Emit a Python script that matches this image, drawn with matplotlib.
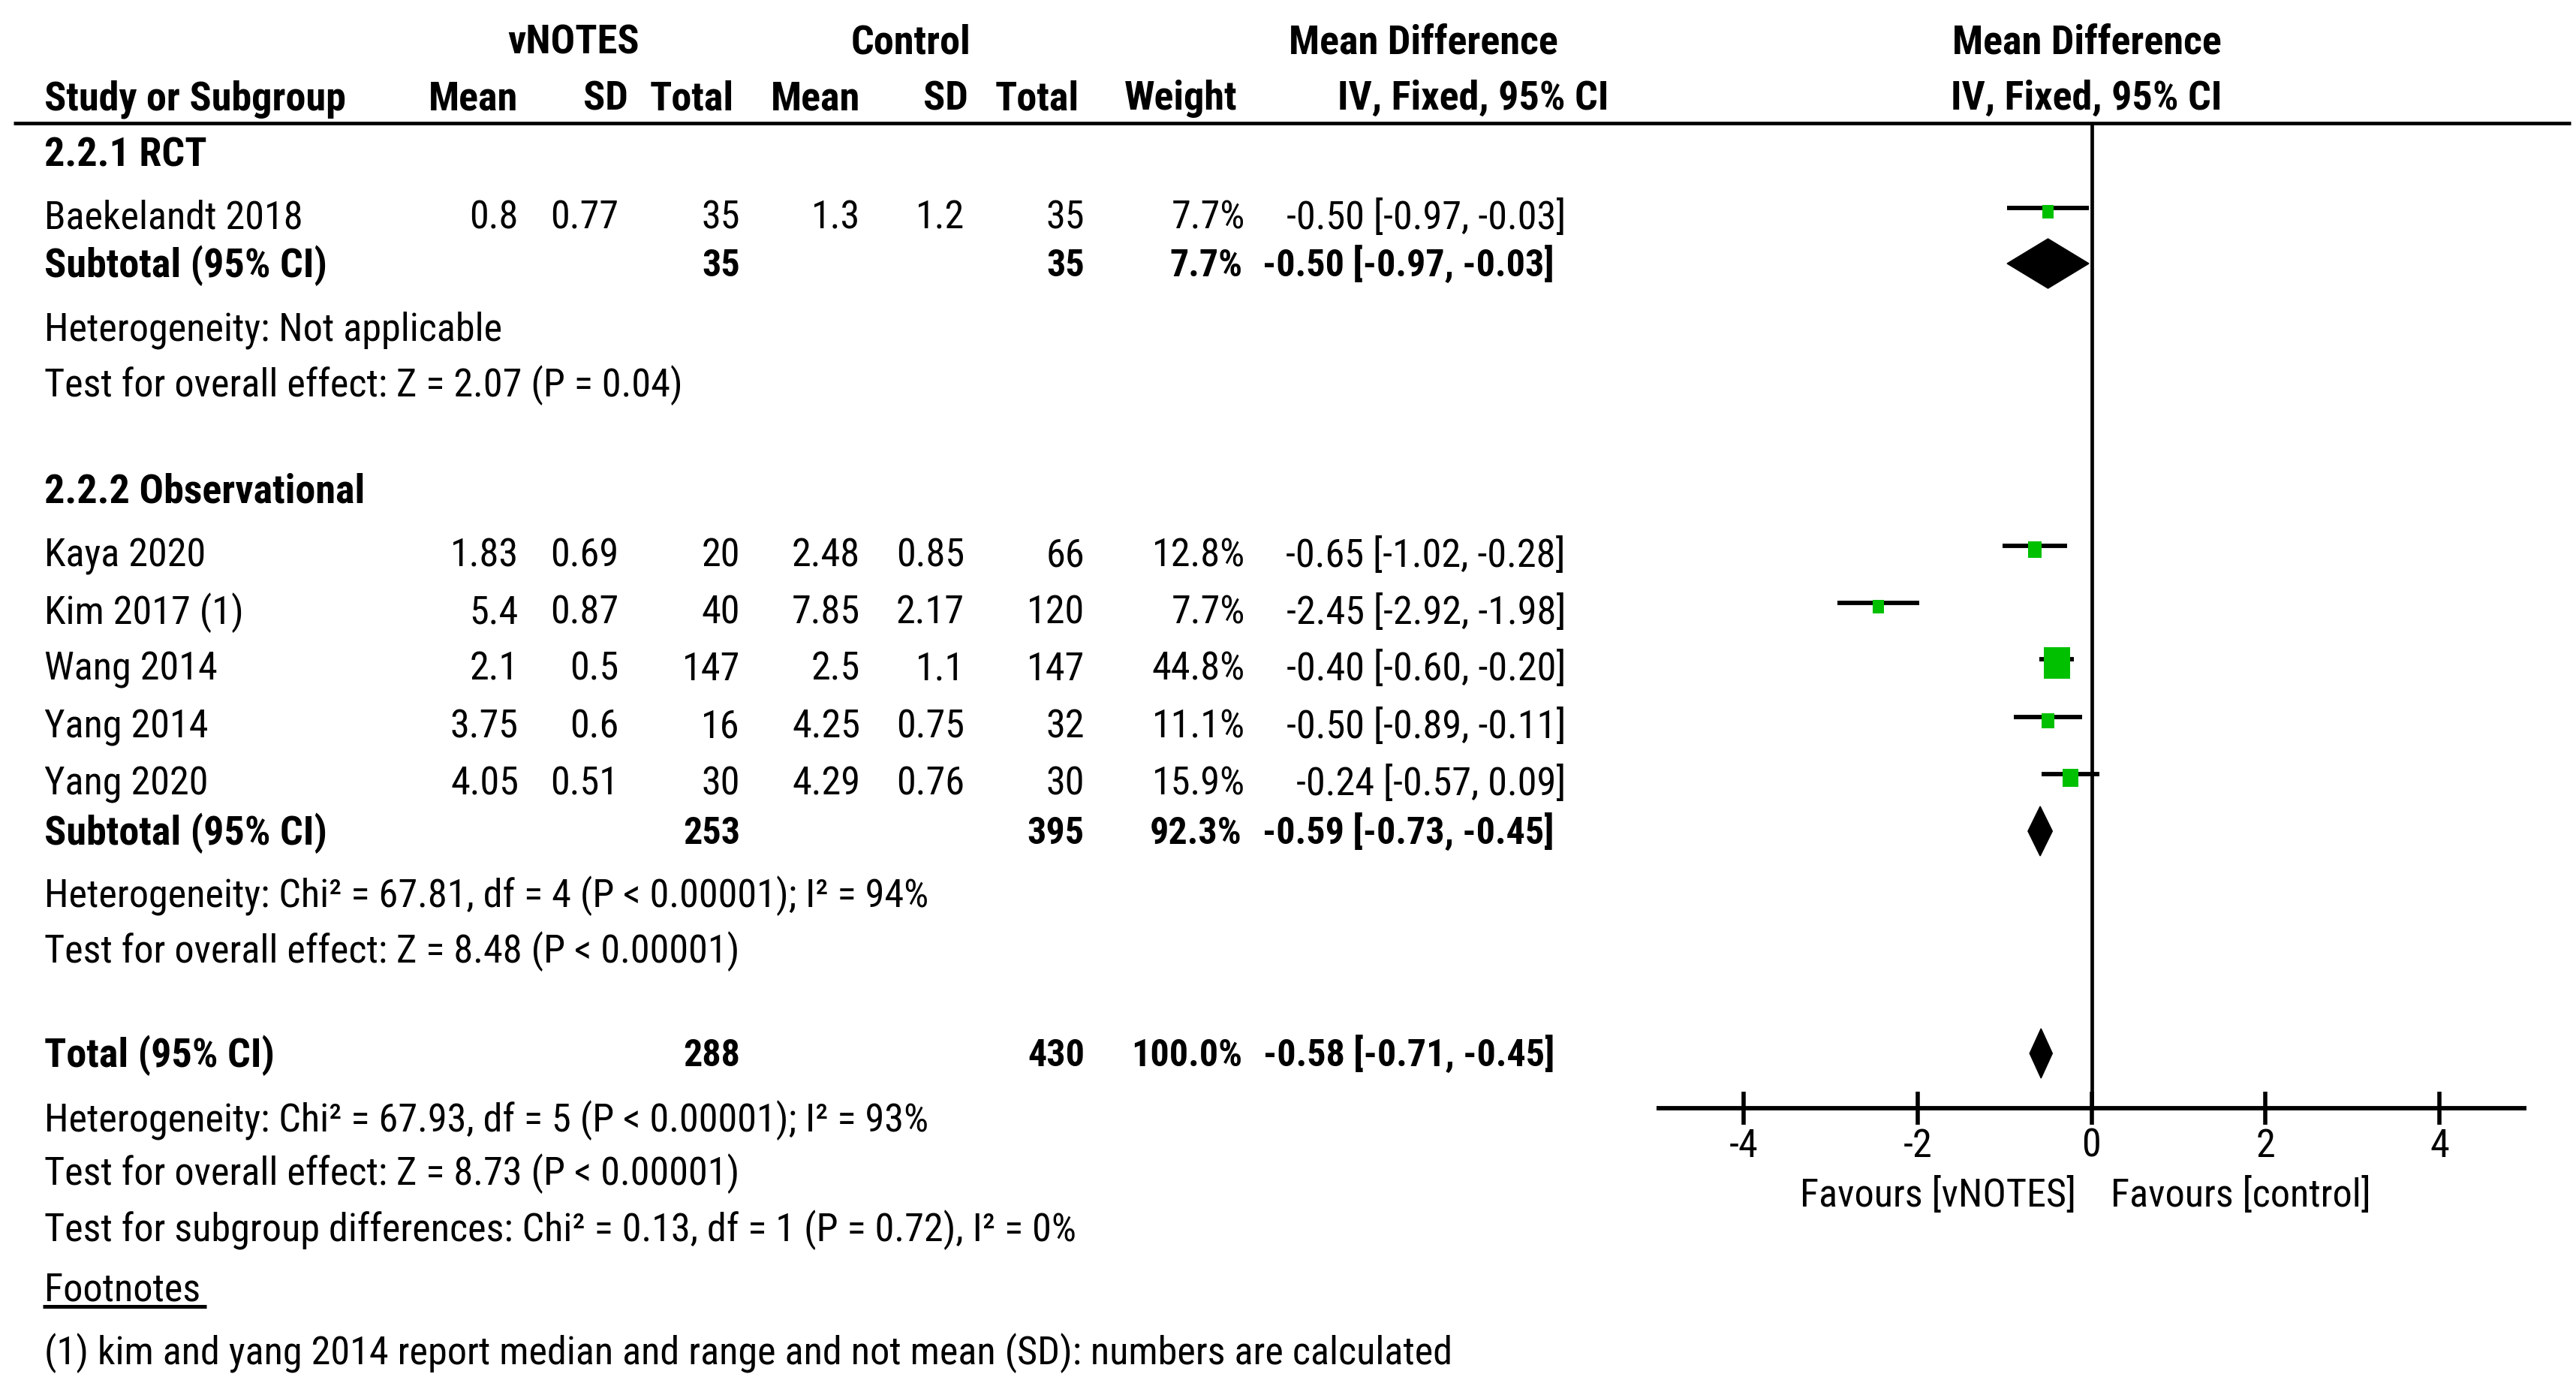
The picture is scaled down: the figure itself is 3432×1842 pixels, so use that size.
import matplotlib
matplotlib.use("Agg")
import matplotlib.pyplot as plt
from matplotlib import font_manager
from matplotlib.patches import Polygon, Rectangle
import numpy as np

# ---------------- data ----------------
studies = ["Baekelandt 2018", "Kaya 2020", "Kim 2017 (1)", "Wang 2014", "Yang 2014", "Yang 2020"]
vn_mean = [0.8, 1.83, 5.4, 2.1, 3.75, 4.05]
vn_sd = [0.77, 0.69, 0.87, 0.5, 0.6, 0.51]
vn_total = [35, 20, 40, 147, 16, 30]
ct_mean = [1.3, 2.48, 7.85, 2.5, 4.25, 4.29]
ct_sd = [1.2, 0.85, 2.17, 1.1, 0.75, 0.76]
ct_total = [35, 66, 120, 147, 32, 30]
weight = [7.7, 12.8, 7.7, 44.8, 11.1, 15.9]
md = [-0.50, -0.65, -2.45, -0.40, -0.50, -0.24]
ci_lo = [-0.97, -1.02, -2.92, -0.60, -0.89, -0.57]
ci_hi = [-0.03, -0.28, -1.98, -0.20, -0.11, 0.09]

pooled_labels = ["Subtotal (95% CI)", "Subtotal (95% CI)", "Total (95% CI)"]
pooled_vn_total = [35, 253, 288]
pooled_ct_total = [35, 395, 430]
pooled_weight = [7.7, 92.3, 100.0]
pooled_md = [-0.50, -0.59, -0.58]
pooled_lo = [-0.97, -0.73, -0.71]
pooled_hi = [-0.03, -0.45, -0.45]

group_titles = ["2.2.1 RCT", "2.2.2 Observational"]
group_notes = [
    ["Heterogeneity: Not applicable", "Test for overall effect: Z = 2.07 (P = 0.04)"],
    ["Heterogeneity: Chi² = 67.81, df = 4 (P < 0.00001); I² = 94%",
     "Test for overall effect: Z = 8.48 (P < 0.00001)"],
]
total_notes = ["Heterogeneity: Chi² = 67.93, df = 5 (P < 0.00001); I² = 93%",
               "Test for overall effect: Z = 8.73 (P < 0.00001)",
               "Test for subgroup differences: Chi² = 0.13, df = 1 (P = 0.72), I² = 0%"]
footnote_title = "Footnotes"
footnote_text = "(1) kim and yang 2014 report median and range and not mean (SD): numbers are calculated"

x_ticks = [-4, -2, 0, 2, 4]
favours_left = "Favours [vNOTES]"
favours_right = "Favours [control]"

# ---------------- fonts ----------------
names = {f.name for f in font_manager.fontManager.ttflist}
if "Roboto Condensed" in names:
    FAM, FS, FSB, FSBN = "Roboto Condensed", 37.6, 39, 36
else:
    FAM, FS, FSB, FSBN = "Liberation Sans", 33, 33, 33
plt.rcParams["font.family"] = [FAM, "DejaVu Sans"]

W, H = 3432, 1842
fig = plt.figure(figsize=(W / 100, H / 100), dpi=100)
tx = fig.add_axes([0, 0, 1, 1])
tx.set_xlim(0, W)
tx.set_ylim(H, 0)
tx.axis("off")

GREEN = "#00C000"
LW = 3.4


def half(fs):
    return fs * 100 / 72 * 0.711 / 2  # half cap height in px


def put(x, y, s, ha="left", bold=False, fs=None):
    if fs is None:
        fs = FSB if bold else FS
    return tx.text(x, y + half(fs), s, ha=ha, va="baseline", fontsize=fs,
                   fontweight="bold" if bold else "normal", color="black")


# column right edges (px)
c_vm, c_vs, c_vt, c_cm, c_cs, c_ct, c_w, c_ci = 691, 824, 986, 1146, 1285, 1445, 1659, 2086
c_w_b, c_ci_b = 1655, 2071
x_left = 59

# headers
put(764, 52, "vNOTES", "center", True)
put(1213, 52, "Control", "center", True)
put(1896, 52, "Mean Difference", "center", True)
put(2780, 52, "Mean Difference", "center", True)
put(x_left, 127, "Study or Subgroup", "left", True)
for xx, s in [(690, "Mean"), (837, "SD"), (978, "Total"), (1146, "Mean"), (1290, "SD"),
              (1438, "Total"), (1648, "Weight"), (2143, "IV, Fixed, 95% CI")]:
    put(xx, 127, s, "right", True)
put(2780, 127, "IV, Fixed, 95% CI", "center", True)
tx.plot([18, 3425], [164.5, 164.5], color="black", lw=LW, solid_capstyle="butt")

# row layout (px, cap centres)
title_y = [202, 650]
study_y = [286, 736, 812, 887, 964, 1040]
pooled_y = [350, 1106, 1402]
note_y = [[435, 509], [1189, 1263]]
total_note_y = [1488, 1559, 1634]
foot_y = [1714, 1798]

for gi, t in enumerate(group_titles):
    put(x_left, title_y[gi], t, "left", True)
    for s, yy in zip(group_notes[gi], note_y[gi]):
        put(x_left, yy, s)

for i, name in enumerate(studies):
    y = study_y[i]
    put(x_left, y, name)
    put(c_vm, y, str(vn_mean[i]), "right")
    put(c_vs, y, str(vn_sd[i]), "right")
    put(c_vt, y, str(vn_total[i]), "right")
    put(c_cm, y, str(ct_mean[i]), "right")
    put(c_cs, y, str(ct_sd[i]), "right")
    put(c_ct, y, str(ct_total[i]), "right")
    put(c_w, y, f"{weight[i]:.1f}%", "right")
    put(c_ci, y, f"{md[i]:.2f} [{ci_lo[i]:.2f}, {ci_hi[i]:.2f}]", "right")

for j, lab in enumerate(pooled_labels):
    y = pooled_y[j]
    put(x_left, y, lab, "left", True)
    put(c_vt, y, str(pooled_vn_total[j]), "right", True, FSBN)
    put(c_ct, y, str(pooled_ct_total[j]), "right", True, FSBN)
    put(c_w_b, y, f"{pooled_weight[j]:.1f}%", "right", True, FSBN)
    put(c_ci_b, y, f"{pooled_md[j]:.2f} [{pooled_lo[j]:.2f}, {pooled_hi[j]:.2f}]", "right",
        True, FSBN)

for s, yy in zip(total_notes, total_note_y):
    put(x_left, yy, s)

ft = put(x_left, foot_y[0], footnote_title)
put(x_left, foot_y[1], footnote_text)
fig.canvas.draw()
bb = ft.get_window_extent(fig.canvas.get_renderer())
tx.plot([x_left - 2, x_left + bb.width + 8], [1740, 1740], color="black", lw=3.6,
        solid_capstyle="butt")

# ---------------- forest panel ----------------
ax_l, ax_r = 2207, 3366
axis_y = 1476
upx = (ax_r - ax_l) / 10.0  # px per unit
fx = fig.add_axes([ax_l / W, 0, (ax_r - ax_l) / W, 1])
fx.set_xlim(-5, 5)
fx.set_ylim(H, 0)
fx.patch.set_alpha(0)
for sp in ["top", "left", "right"]:
    fx.spines[sp].set_visible(False)
fx.spines["bottom"].set_position(("data", axis_y))
fx.spines["bottom"].set_linewidth(4.2)
fx.spines["bottom"].set_capstyle("butt")
fx.set_yticks([])
fx.set_xticks(x_ticks)
fx.set_xticklabels([str(t) for t in x_ticks])
fx.tick_params(axis="x", direction="inout", length=31, width=4.0, labelsize=FS, pad=3)

fx.plot([0, 0], [164.5, axis_y], color="black", lw=LW, solid_capstyle="butt")

for i in range(len(studies)):
    y = study_y[i] - 9
    fx.plot([ci_lo[i], ci_hi[i]], [y, y], color="black", lw=4.2, solid_capstyle="butt", zorder=2)
    h = 6.2 * np.sqrt(weight[i])
    w = 0.84 * h / upx
    fx.add_patch(Rectangle((md[i] - w / 2, y + 5 - h / 2), w, h, facecolor=GREEN,
                           edgecolor="none", zorder=3))

for j in range(len(pooled_labels)):
    y = pooled_y[j] + 1
    hh = 33
    fx.add_patch(Polygon([[pooled_lo[j], y], [pooled_md[j], y - hh], [pooled_hi[j], y],
                          [pooled_md[j], y + hh]], closed=True, facecolor="black",
                         edgecolor="black", lw=1))

fx.text(-0.18, 1588 + half(FS), favours_left, ha="right", va="baseline", fontsize=FS)
fx.text(0.22, 1588 + half(FS), favours_right, ha="left", va="baseline", fontsize=FS)

fig.savefig("out.png", dpi=100)
